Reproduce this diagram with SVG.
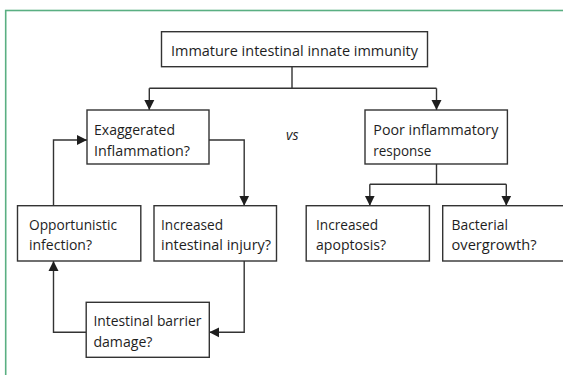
<svg xmlns="http://www.w3.org/2000/svg" width="563" height="375" viewBox="0 0 563 375">
<style>
.frame{fill:none;stroke:#5aaf82;stroke-width:1.6}
.box{fill:#fff;stroke:#333;stroke-width:1.4}
.ln{fill:none;stroke:#333;stroke-width:1.4}
.t{font-family:"Open Sans","Noto Sans",sans-serif;font-size:15px;fill:#1e1e1e}
.vs{font-family:"Open Sans","Noto Sans",sans-serif;font-size:14px;font-style:italic;fill:#1e1e1e}
</style>
<defs>
<marker id="ah" viewBox="0 0 10 10" refX="10" refY="5" markerWidth="10" markerHeight="11" markerUnits="userSpaceOnUse" orient="auto">
<path d="M0,0 L10,5 L0,10 z" fill="#1e1e1e"/>
</marker>
</defs>
<rect class="frame" x="5.7" y="10.5" width="620" height="420"/>
<g id="connectors">
<path class="ln" d="M292,66.7 V88.3 M149.3,88.3 H436.5"/>
<path class="ln" d="M149.3,88.3 V110" marker-end="url(#ah)"/>
<path class="ln" d="M436.5,88.3 V110" marker-end="url(#ah)"/>
<path class="ln" d="M209,140 H244.2 V205.7" marker-end="url(#ah)"/>
<path class="ln" d="M244.2,261 V332.3 H209.3" marker-end="url(#ah)"/>
<path class="ln" d="M86.2,332.3 H53.5 V261" marker-end="url(#ah)"/>
<path class="ln" d="M53.5,205.7 V140 H87" marker-end="url(#ah)"/>
<path class="ln" d="M436.5,164 V184.3 M369.8,184.3 H506.3"/>
<path class="ln" d="M369.8,184.3 V205.7" marker-end="url(#ah)"/>
<path class="ln" d="M506.3,184.3 V205.7" marker-end="url(#ah)"/>
</g>
<g id="n-root">
<rect class="box" x="161.5" y="31.7" width="266" height="35"/>
<text class="t" x="171" y="56" textLength="247" lengthAdjust="spacingAndGlyphs">Immature intestinal innate immunity</text>
</g>
<g id="n-exag">
<rect class="box" x="87" y="110" width="122" height="54"/>
<text class="t" x="94" y="134.5" textLength="81" lengthAdjust="spacingAndGlyphs">Exaggerated</text>
<text class="t" x="94" y="155.5" textLength="96" lengthAdjust="spacingAndGlyphs">Inflammation?</text>
</g>
<g id="n-vs">
<text class="vs" x="286" y="140">vs</text>
</g>
<g id="n-poor">
<rect class="box" x="365" y="110" width="142.4" height="54"/>
<text class="t" x="373.3" y="134.5" textLength="125" lengthAdjust="spacingAndGlyphs">Poor inflammatory</text>
<text class="t" x="373.3" y="155.5" textLength="58" lengthAdjust="spacingAndGlyphs">response</text>
</g>
<g id="n-opp">
<rect class="box" x="17.5" y="205.7" width="123.3" height="55.3"/>
<text class="t" x="29" y="229.5" textLength="88" lengthAdjust="spacingAndGlyphs">Opportunistic</text>
<text class="t" x="29" y="250" textLength="63" lengthAdjust="spacingAndGlyphs">infection?</text>
</g>
<g id="n-injury">
<rect class="box" x="154" y="205.7" width="122.5" height="55.3"/>
<text class="t" x="161" y="229.5" textLength="62" lengthAdjust="spacingAndGlyphs">Increased</text>
<text class="t" x="161" y="250" textLength="110" lengthAdjust="spacingAndGlyphs">intestinal injury?</text>
</g>
<g id="n-apop">
<rect class="box" x="306.2" y="205.7" width="123.2" height="55.3"/>
<text class="t" x="316" y="229.5" textLength="62" lengthAdjust="spacingAndGlyphs">Increased</text>
<text class="t" x="316" y="250" textLength="70" lengthAdjust="spacingAndGlyphs">apoptosis?</text>
</g>
<g id="n-bact">
<rect class="box" x="442.7" y="205.7" width="140" height="55.3"/>
<text class="t" x="451.5" y="229.5" textLength="56.5" lengthAdjust="spacingAndGlyphs">Bacterial</text>
<text class="t" x="451.5" y="250" textLength="85" lengthAdjust="spacingAndGlyphs">overgrowth?</text>
</g>
<g id="n-barrier">
<rect class="box" x="86.2" y="302.3" width="123.1" height="55"/>
<text class="t" x="93.4" y="326" textLength="108" lengthAdjust="spacingAndGlyphs">Intestinal barrier</text>
<text class="t" x="93.4" y="347" textLength="59" lengthAdjust="spacingAndGlyphs">damage?</text>
</g>
</svg>
